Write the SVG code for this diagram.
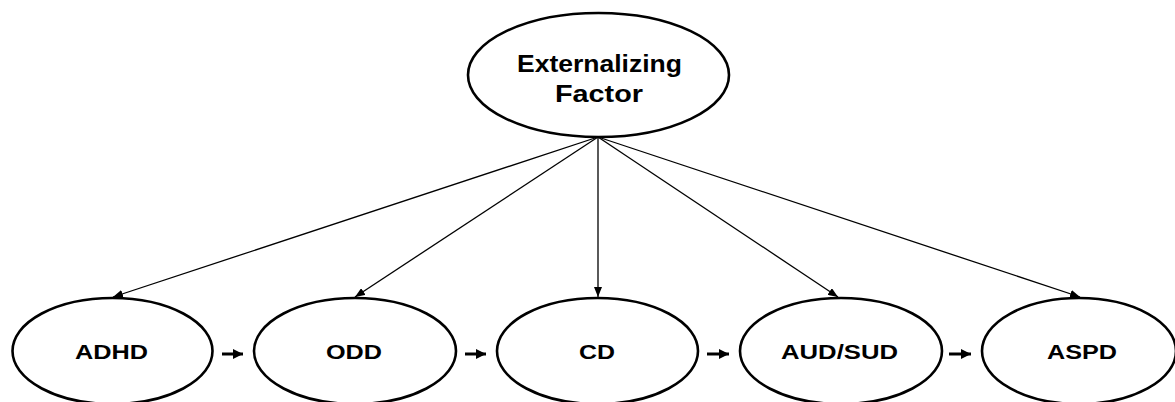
<svg xmlns="http://www.w3.org/2000/svg" width="1175" height="402" viewBox="0 0 1175 402">
<style>
.node{fill:#fff;stroke:#000;stroke-width:2.6}
.lbl{font-family:"Liberation Sans",Arial,sans-serif;font-weight:bold;fill:#000;text-anchor:middle}
.big{font-size:24px}
.small{font-size:21px}
.conn{stroke:#000;stroke-width:1.3;fill:none}
.seq{stroke:#000;stroke-width:3;fill:none}
</style>
<defs>
<marker id="ah" viewBox="0 0 10 8" refX="10" refY="4" markerWidth="10" markerHeight="8" markerUnits="userSpaceOnUse" orient="auto">
<path d="M0,0 L10,4 L0,8 Z" fill="#000"/>
</marker>
<marker id="ah2" viewBox="0 0 10 10" refX="10" refY="5" markerWidth="10" markerHeight="10" markerUnits="userSpaceOnUse" orient="auto">
<path d="M0,0 L10,5 L0,10 Z" fill="#000"/>
</marker>
</defs>
<rect width="1175" height="402" fill="#fff"/>
<g id="connectors">
<line class="conn" x1="598" y1="137" x2="113" y2="297" marker-end="url(#ah)"/>
<line class="conn" x1="598" y1="137" x2="355" y2="297" marker-end="url(#ah)"/>
<line class="conn" x1="598" y1="137" x2="598" y2="297" marker-end="url(#ah)"/>
<line class="conn" x1="598" y1="137" x2="838" y2="297" marker-end="url(#ah)"/>
<line class="conn" x1="598" y1="137" x2="1080" y2="297" marker-end="url(#ah)"/>
<line class="seq" x1="222" y1="354" x2="243" y2="354" marker-end="url(#ah2)"/>
<line class="seq" x1="465" y1="354" x2="486" y2="354" marker-end="url(#ah2)"/>
<line class="seq" x1="707" y1="354" x2="729" y2="354" marker-end="url(#ah2)"/>
<line class="seq" x1="949" y1="354" x2="971" y2="354" marker-end="url(#ah2)"/>
</g>
<g id="externalizing">
<ellipse class="node" cx="598.5" cy="75" rx="130.5" ry="62"/>
<text class="lbl big" x="599.5" y="72" textLength="165" lengthAdjust="spacingAndGlyphs">Externalizing</text>
<text class="lbl big" x="599" y="102" textLength="88" lengthAdjust="spacingAndGlyphs">Factor</text>
</g>
<g id="adhd">
<ellipse class="node" cx="112.5" cy="351" rx="100" ry="53"/>
<text class="lbl small" x="111.5" y="358.5" textLength="73" lengthAdjust="spacingAndGlyphs">ADHD</text>
</g>
<g id="odd">
<ellipse class="node" cx="355" cy="351" rx="101" ry="53"/>
<text class="lbl small" x="354" y="358.5" textLength="56" lengthAdjust="spacingAndGlyphs">ODD</text>
</g>
<g id="cd">
<ellipse class="node" cx="597.5" cy="351" rx="100.5" ry="53"/>
<text class="lbl small" x="597" y="358.5" textLength="36" lengthAdjust="spacingAndGlyphs">CD</text>
</g>
<g id="audsud">
<ellipse class="node" cx="841" cy="351" rx="101" ry="53"/>
<text class="lbl small" x="839.5" y="358.5" textLength="117" lengthAdjust="spacingAndGlyphs">AUD/SUD</text>
</g>
<g id="aspd">
<ellipse class="node" cx="1079" cy="351" rx="97" ry="53"/>
<text class="lbl small" x="1082" y="358.5" textLength="70" lengthAdjust="spacingAndGlyphs">ASPD</text>
</g>
</svg>
